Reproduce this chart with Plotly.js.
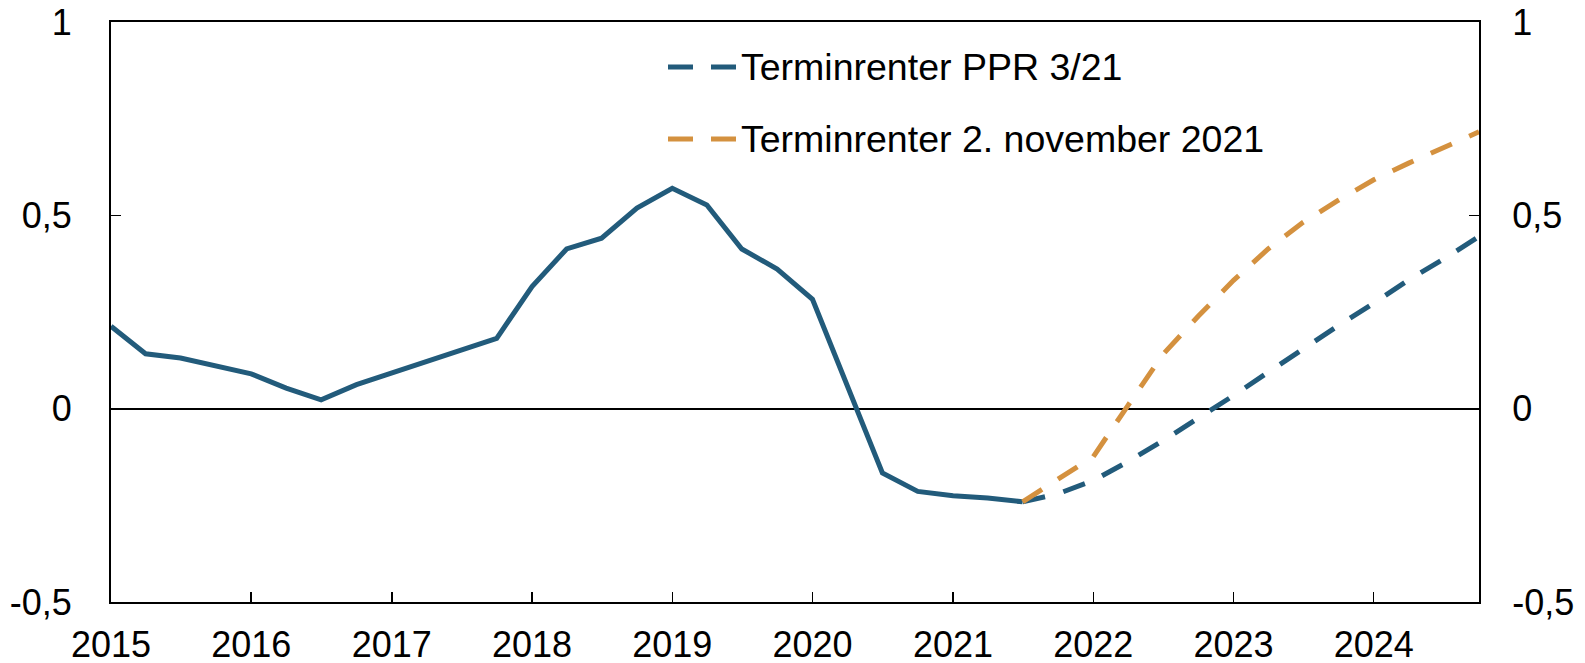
<!DOCTYPE html>
<html>
<head>
<meta charset="utf-8">
<script src="https://cdn.plot.ly/plotly-3.0.1.min.js"></script>
<style>
  html, body { margin: 0; padding: 0; background: #fff; }
  #chart { width: 1585px; height: 663px; }
</style>
</head>
<body>
<div id="chart"></div>
<script>
// ---- Data ----
var histDates = [
  '2015-01-01','2015-04-01','2015-07-01','2015-10-01',
  '2016-01-01','2016-04-01','2016-07-01','2016-10-01',
  '2017-01-01','2017-04-01','2017-07-01','2017-10-01',
  '2018-01-01','2018-04-01','2018-07-01','2018-10-01',
  '2019-01-01','2019-04-01','2019-07-01','2019-10-01',
  '2020-01-01','2020-04-01','2020-07-01','2020-10-01',
  '2021-01-01','2021-04-01','2021-07-01'
];
var histValues = [
  0.213, 0.142, 0.131, 0.112,
  0.090, 0.053, 0.023, 0.062,
  0.092, 0.122, 0.152, 0.182,
  0.316, 0.413, 0.441, 0.519,
  0.570, 0.527, 0.413, 0.361,
  0.283, 0.059, -0.166, -0.214,
  -0.225, -0.231, -0.241
];
var fcDates = [
  '2021-07-01','2021-10-01',
  '2022-01-01','2022-04-01','2022-07-01','2022-10-01',
  '2023-01-01','2023-04-01','2023-07-01','2023-10-01',
  '2024-01-01','2024-04-01','2024-07-01','2024-10-01'
];
var ppr321 = [
  -0.241, -0.220,
  -0.186, -0.137, -0.083, -0.026,
  0.034, 0.094, 0.155, 0.215,
  0.273, 0.333, 0.387, 0.445
];
var nov2021 = [
  -0.241, -0.183,
  -0.124, 0.008, 0.140, 0.239,
  0.332, 0.413, 0.482, 0.539,
  0.592, 0.635, 0.674, 0.716
];
var seriesNames = ['Terminrenter PPR 3/21', 'Terminrenter 2. november 2021'];
var yTickVals = [-0.5, 0, 0.5, 1];
var yTickText = ['-0,5', '0', '0,5', '1'];

// ---- Styling ----
var BLUE = '#225B7B';
var ORANGE = '#D4913F';
var FONT = 'Arial, "Liberation Sans", sans-serif';

var traces = [
  {x: histDates, y: histValues, type: 'scatter', mode: 'lines',
   line: {color: BLUE, width: 5}, showlegend: false, hoverinfo: 'skip'},
  {x: fcDates, y: ppr321, type: 'scatter', mode: 'lines', name: seriesNames[0],
   line: {color: BLUE, width: 5, dash: '23px,19px'}, showlegend: false},
  {x: fcDates, y: nov2021, type: 'scatter', mode: 'lines', name: seriesNames[1],
   yaxis: 'y2',
   line: {color: ORANGE, width: 5, dash: '23px,19px'}, showlegend: false}
];

// plot-area geometry (pixels) for placing the hand-made legend
var L = 111, R = 106, T = 22, B = 61, W = 1585, H = 663;
var pw = W - L - R, ph = H - T - B;
function px(x) { return (x - L) / pw; }
function py(y) { return 1 - (y - T) / ph; }

var legendRows = [
  {y: 67, color: BLUE, text: seriesNames[0]},
  {y: 139, color: ORANGE, text: seriesNames[1]}
];
var shapes = [], annotations = [];
legendRows.forEach(function (r) {
  shapes.push({type: 'line', xref: 'paper', yref: 'paper',
    x0: px(668), x1: px(736), y0: py(r.y), y1: py(r.y),
    line: {color: r.color, width: 5, dash: '25px,18px'}});
  annotations.push({xref: 'paper', yref: 'paper', x: px(739), y: py(r.y),
    xanchor: 'left', yanchor: 'middle', showarrow: false, text: r.text,
    font: {family: FONT, size: 37.5, color: '#000'}});
});

var axisCommon = {
  showline: true, linecolor: '#000', linewidth: 2,
  ticks: 'inside', ticklen: 10, tickwidth: 1.5, tickcolor: '#000',
  showgrid: false,
  tickfont: {family: FONT, size: 36, color: '#000'}
};

var layout = {
  width: W, height: H,
  margin: {l: L, r: R, t: T, b: B, pad: 0},
  paper_bgcolor: '#fff', plot_bgcolor: '#fff',
  showlegend: false,
  font: {family: FONT, color: '#000'},
  xaxis: Object.assign({}, axisCommon, {
    type: 'date',
    range: ['2015-01-01', '2024-10-01'],
    tick0: '2015-01-01', dtick: 'M12', tickformat: '%Y',
    mirror: true, zeroline: false,
    ticklabelstandoff: 10
  }),
  yaxis: Object.assign({}, axisCommon, {
    range: [-0.5, 1],
    tickvals: yTickVals, ticktext: yTickText,
    mirror: true,
    zeroline: true, zerolinecolor: '#000', zerolinewidth: 2,
    ticklabelstandoff: 30
  }),
  yaxis2: Object.assign({}, axisCommon, {
    range: [-0.5, 1],
    tickvals: yTickVals, ticktext: yTickText,
    overlaying: 'y', side: 'right',
    zeroline: false,
    ticklabelstandoff: 24
  }),
  shapes: shapes,
  annotations: annotations
};

Plotly.newPlot('chart', traces, layout, {staticPlot: true, displayModeBar: false});
</script>
</body>
</html>
